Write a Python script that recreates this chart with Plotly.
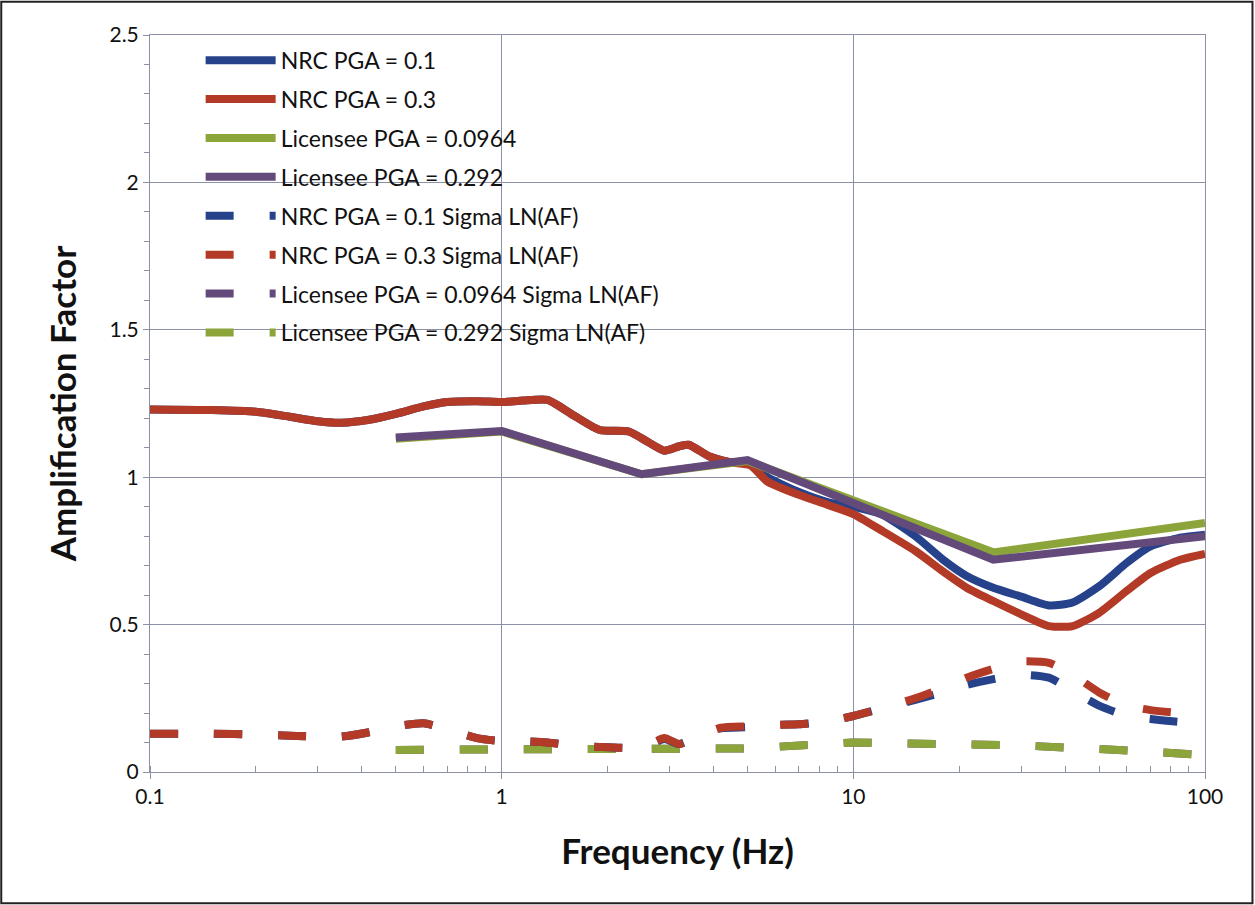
import plotly.graph_objects as go

# ---- data ----
nrc_freq = [0.1, 0.15, 0.2, 0.25, 0.3, 0.35, 0.42, 0.5, 0.6, 0.7, 0.85, 1.0, 1.15, 1.35, 1.6, 1.9, 2.3, 2.6, 2.9, 3.2, 3.4, 3.9, 4.5, 5.1, 5.7, 7.0, 8.5, 10.0, 12.0, 15.0, 18.0, 21.0, 25.0, 30.0, 36.0, 42.0, 50.0, 60.0, 70.0, 85.0, 100.0]
nrc01_af = [1.23, 1.228, 1.222, 1.205, 1.19, 1.185, 1.195, 1.215, 1.24, 1.255, 1.258, 1.255, 1.26, 1.262, 1.21, 1.16, 1.155, 1.12, 1.09, 1.105, 1.11, 1.07, 1.05, 1.045, 1.0, 0.95, 0.915, 0.90, 0.875, 0.80, 0.72, 0.665, 0.625, 0.595, 0.565, 0.575, 0.63, 0.71, 0.765, 0.795, 0.805]
nrc03_af = [1.23, 1.228, 1.222, 1.205, 1.19, 1.185, 1.195, 1.215, 1.24, 1.255, 1.258, 1.255, 1.26, 1.262, 1.21, 1.16, 1.155, 1.12, 1.09, 1.105, 1.11, 1.07, 1.05, 1.04, 0.985, 0.94, 0.905, 0.875, 0.82, 0.75, 0.68, 0.625, 0.58, 0.535, 0.495, 0.495, 0.54, 0.615, 0.675, 0.72, 0.74]

lic_freq = [0.5, 1.0, 2.5, 5.0, 25.0, 100.0]
lic0964_af = [1.13, 1.155, 1.01, 1.055, 0.745, 0.845]
lic0292_af = [1.135, 1.157, 1.01, 1.058, 0.72, 0.80]

sig_freq = [0.1, 0.15, 0.2, 0.25, 0.3, 0.35, 0.42, 0.5, 0.6, 0.7, 0.85, 1.0, 1.15, 1.35, 1.6, 1.9, 2.3, 2.6, 2.9, 3.2, 3.6, 4.2, 5.0, 6.0, 7.0, 8.5, 10.0, 12.0, 15.0, 18.0, 21.0, 25.0, 30.0, 36.0, 42.0, 50.0, 60.0, 70.0, 85.0, 100.0]
nrc01_sig = [0.13, 0.13, 0.127, 0.123, 0.12, 0.12, 0.135, 0.155, 0.165, 0.145, 0.115, 0.105, 0.105, 0.10, 0.09, 0.085, 0.082, 0.09, 0.112, 0.095, 0.12, 0.148, 0.152, 0.16, 0.162, 0.172, 0.19, 0.215, 0.245, 0.27, 0.295, 0.315, 0.33, 0.32, 0.275, 0.225, 0.19, 0.18, 0.17, 0.17]
nrc03_sig = [0.13, 0.13, 0.127, 0.123, 0.12, 0.12, 0.135, 0.155, 0.165, 0.145, 0.115, 0.105, 0.105, 0.10, 0.09, 0.085, 0.082, 0.09, 0.115, 0.095, 0.12, 0.15, 0.155, 0.16, 0.162, 0.172, 0.19, 0.215, 0.25, 0.285, 0.32, 0.35, 0.375, 0.37, 0.33, 0.27, 0.225, 0.21, 0.2, 0.2]

lic_sig_freq = [0.5, 1.0, 2.0, 5.0, 10.0, 20.0, 30.0, 50.0, 100.0]
lic0964_sig = [0.075, 0.078, 0.08, 0.08, 0.10, 0.097, 0.09, 0.078, 0.058]
lic0292_sig = [0.075, 0.078, 0.08, 0.08, 0.10, 0.097, 0.09, 0.078, 0.058]

names = [
    "NRC PGA = 0.1", "NRC PGA = 0.3", "Licensee PGA = 0.0964", "Licensee PGA = 0.292",
    "NRC PGA = 0.1 Sigma LN(AF)", "NRC PGA = 0.3 Sigma LN(AF)",
    "Licensee PGA = 0.0964 Sigma LN(AF)", "Licensee PGA = 0.292 Sigma LN(AF)",
]
x_ticks = [0.1, 1, 10, 100]
x_tick_labels = ["0.1", "1", "10", "100"]
y_ticks = [0, 0.5, 1, 1.5, 2, 2.5]
y_tick_labels = ["0", "0.5", "1", "1.5", "2", "2.5"]

# ---- styles ----
C_BLUE = "#26428b"
C_RED = "#b23a26"
C_GREEN = "#8ca53a"
C_PURPLE = "#644a7a"
DASH = "28px,36px"

fig = go.Figure()

def add(x, y, name, color, width, dash="solid", shape="linear", i=0):
    fig.add_trace(go.Scatter(
        x=x, y=y, name=name, mode="lines",
        line=dict(color=color, width=width, dash=dash, shape=shape,
                  smoothing=0.6 if shape == "spline" else None),
        legendgroup=f"g{i}", legendrank=i + 1,
    ))

# draw order: dashed first, then solid (solid lines on top)
add(lic_sig_freq, lic0964_sig, names[6], C_PURPLE, 8, DASH, i=6)
add(lic_sig_freq, lic0292_sig, names[7], C_GREEN, 8, DASH, i=7)
add(sig_freq, nrc01_sig, names[4], C_BLUE, 8, DASH, "spline", i=4)
add(sig_freq, nrc03_sig, names[5], C_RED, 8, DASH, "spline", i=5)
add(nrc_freq, nrc01_af, names[0], C_BLUE, 8, shape="spline", i=0)
add(nrc_freq, nrc03_af, names[1], C_RED, 8, shape="spline", i=1)
add(lic_freq, lic0964_af, names[2], C_GREEN, 8, i=2)
add(lic_freq, lic0292_af, names[3], C_PURPLE, 8, i=3)

grid_col = "#8d91a8"
font_fam = "Lato, 'Open Sans', sans-serif"

fig.update_layout(
    width=1255, height=905,
    margin=dict(l=150, r=50, t=35, b=133),
    paper_bgcolor="white", plot_bgcolor="white",
    font=dict(family=font_fam, size=20, color="#111111"),
    showlegend=True,
    legend=dict(
        x=0.048, y=0.995, xanchor="left", yanchor="top",
        bgcolor="rgba(0,0,0,0)", borderwidth=0,
        font=dict(family=font_fam, size=23, color="#111111"),
        tracegroupgap=6, itemwidth=70,
    ),
    xaxis=dict(
        type="log", range=[-1, 2],
        tickvals=x_ticks, ticktext=x_tick_labels,
        showgrid=True, gridcolor=grid_col, gridwidth=1,
        showline=True, linecolor=grid_col, linewidth=1, mirror=True,
        ticks="outside", ticklen=6, tickcolor=grid_col,
        minor=dict(ticks="inside", ticklen=6, tickcolor=grid_col, showgrid=False, dtick="D1"),
        tickfont=dict(size=21),
        title=dict(text="<b>Frequency (Hz)</b>", font=dict(size=35), standoff=32),
        zeroline=False,
    ),
    yaxis=dict(
        range=[0, 2.5],
        tickvals=y_ticks, ticktext=y_tick_labels,
        showgrid=True, gridcolor=grid_col, gridwidth=1,
        showline=True, linecolor=grid_col, linewidth=1, mirror=True,
        ticks="outside", ticklen=6, tickcolor=grid_col,
        minor=dict(ticks="outside", ticklen=5, tickcolor=grid_col, showgrid=False, dtick=0.1),
        tickfont=dict(size=21),
        title=dict(text="<b>Amplification Factor</b>", font=dict(size=35), standoff=22),
        zeroline=False,
    ),
    shapes=[dict(
        type="rect", xref="paper", yref="paper",
        x0=-0.141, x1=1.045, y0=-0.178, y1=1.045,
        line=dict(color="#222222", width=2), fillcolor="rgba(0,0,0,0)",
    )],
)

fig.write_html("out.html", config={"displayModeBar": False},
               post_script="document.body.style.margin='0';")
